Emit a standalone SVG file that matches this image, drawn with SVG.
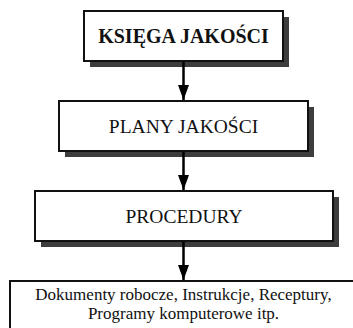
<svg xmlns="http://www.w3.org/2000/svg" width="353" height="328" viewBox="0 0 353 328">
  <defs>
    <marker id="head" viewBox="0 0 15 11" refX="15" refY="5.5" markerWidth="15" markerHeight="11" markerUnits="userSpaceOnUse" orient="auto">
      <path d="M0,0 L15,5.5 L0,11 Z" fill="#000"/>
    </marker>
  </defs>
  <style>
    .shadow { fill: #3d3d3d; }
    .box { fill: #fff; stroke: #111; stroke-width: 2; }
    .label { font-family: "Liberation Serif", "Times New Roman", serif; fill: #111; text-anchor: middle; }
    .conn { stroke: #000; stroke-width: 2.5; fill: none; }
  </style>
  <rect width="353" height="328" fill="#fff"/>

  <!-- level 1: quality manual -->
  <g id="ksiega">
    <rect class="shadow" x="90" y="17" width="199" height="50"/>
    <rect class="box" x="84" y="11" width="199" height="50"/>
    <text class="label" x="183.5" y="43" font-size="20" font-weight="bold">KSIĘGA JAKOŚCI</text>
  </g>

  <!-- level 2: quality plans -->
  <g id="plany">
    <rect class="shadow" x="65" y="107" width="249" height="50"/>
    <rect class="box" x="59" y="101" width="249" height="50"/>
    <text class="label" x="183.5" y="133" font-size="19.5">PLANY JAKOŚCI</text>
  </g>

  <!-- level 3: procedures -->
  <g id="procedury">
    <rect class="shadow" x="41" y="197" width="298" height="50"/>
    <rect class="box" x="35" y="191" width="298" height="50"/>
    <text class="label" x="184" y="223" font-size="19.5">PROCEDURY</text>
  </g>

  <!-- level 4: working documents -->
  <g id="dokumenty">
    <rect class="box" x="10" y="281" width="347" height="55"/>
    <text class="label" x="183.5" y="300" font-size="17">Dokumenty robocze, Instrukcje, Receptury,</text>
    <text class="label" x="183.5" y="319" font-size="17">Programy komputerowe itp.</text>
  </g>

  <g id="connectors">
    <line class="conn" x1="183.5" y1="62" x2="183.5" y2="100" marker-end="url(#head)"/>
    <line class="conn" x1="183.5" y1="152" x2="183.5" y2="190" marker-end="url(#head)"/>
    <line class="conn" x1="183.5" y1="242" x2="183.5" y2="280" marker-end="url(#head)"/>
  </g>
</svg>
